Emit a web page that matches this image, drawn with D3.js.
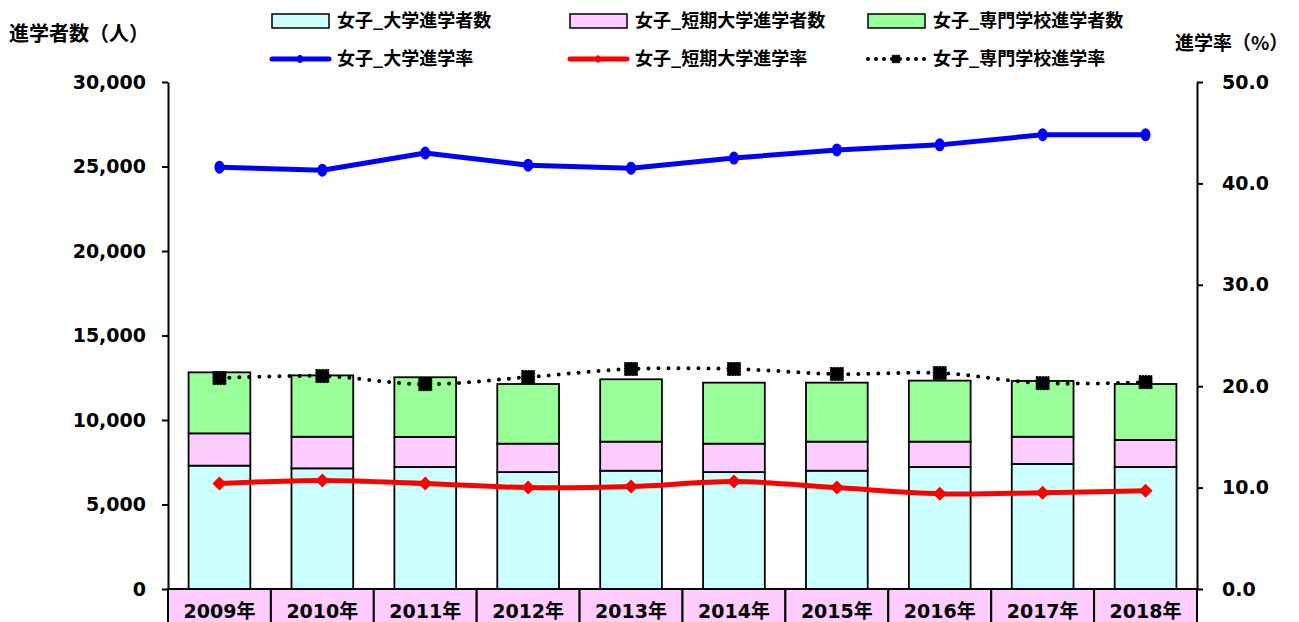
<!DOCTYPE html>
<html>
<head>
<meta charset="utf-8">
<script src="https://cdn.jsdelivr.net/npm/d3@7"></script>
<style>
  body { margin: 0; background: #fff; }
  svg text { font-family: "DejaVu Sans", "Noto Sans CJK JP", sans-serif; font-weight: bold; fill: #000; }
  svg text.jp { font-family: "Noto Sans CJK JP", sans-serif; font-weight: 700; }
</style>
</head>
<body>
<svg id="chart" width="1299" height="622"></svg>
<script>
// data
const years = ['2009年', '2010年', '2011年', '2012年', '2013年', '2014年', '2015年', '2016年', '2017年', '2018年'];
const univCount = [7300, 7140, 7220, 6920, 7000, 6920, 7000, 7220, 7400, 7220];
const juniorCount = [1910, 1870, 1780, 1680, 1720, 1680, 1720, 1500, 1610, 1600];
const vocCount = [3610, 3630, 3530, 3530, 3690, 3610, 3490, 3610, 3300, 3310];
const univRate = [41.6, 41.3, 43.0, 41.8, 41.5, 42.5, 43.3, 43.8, 44.8, 44.8];
const juniorRate = [10.4, 10.7, 10.4, 10.0, 10.1, 10.6, 10.0, 9.4, 9.5, 9.7];
const vocRate = [20.8, 21.0, 20.2, 20.9, 21.7, 21.7, 21.2, 21.3, 20.3, 20.4];
const leftTicks = [0, 5000, 10000, 15000, 20000, 25000, 30000];
const rightTicks = [0, 10, 20, 30, 40, 50];

const barSeries = [
  {name: '女子_大学進学者数', values: univCount, color: '#CCFFFF'},
  {name: '女子_短期大学進学者数', values: juniorCount, color: '#FFCCFF'},
  {name: '女子_専門学校進学者数', values: vocCount, color: '#99FF99'}
];
const lineSeries = [
  {name: '女子_大学進学率', values: univRate, color: '#0000FF', marker: 'circle'},
  {name: '女子_短期大学進学率', values: juniorRate, color: '#FF0000', marker: 'diamond'},
  {name: '女子_専門学校進学率', values: vocRate, color: '#000000', marker: 'square'}
];

const svg = d3.select('#chart');
const plotL = 168, plotR = 1197, plotT = 82, plotB = 589;

const x = d3.scaleBand().domain(years).range([plotL, plotR]).padding(0);
const yL = d3.scaleLinear().domain([0, 30000]).range([plotB, plotT]);
const yR = d3.scaleLinear().domain([0, 50]).range([plotB, plotT]);
const barW = x.bandwidth() * 0.6;

// stacked bars
const stackData = years.map((y, i) => ({year: y, s0: univCount[i], s1: juniorCount[i], s2: vocCount[i]}));
const stacked = d3.stack().keys(['s0', 's1', 's2'])(stackData);

svg.append('g').selectAll('g')
  .data(stacked)
  .join('g')
  .attr('fill', (d, i) => barSeries[i].color)
  .selectAll('rect')
  .data(d => d)
  .join('rect')
  .attr('x', d => x(d.data.year) + (x.bandwidth() - barW) / 2)
  .attr('width', barW)
  .attr('y', d => yL(d[1]))
  .attr('height', d => yL(d[0]) - yL(d[1]))
  .attr('stroke', '#000')
  .attr('stroke-width', 1.8);

// axes
const axL = svg.append('g')
  .attr('transform', `translate(${plotL},0)`)
  .call(d3.axisLeft(yL).tickValues(leftTicks).tickFormat(d3.format(',')).tickSize(6).tickSizeOuter(0).tickPadding(16));
const axR = svg.append('g')
  .attr('transform', `translate(${plotR},0)`)
  .call(d3.axisRight(yR).tickValues(rightTicks).tickFormat(d3.format('.1f')).tickSize(6).tickSizeOuter(0).tickPadding(19));
[axL, axR].forEach(a => {
  a.selectAll('path, line').attr('stroke', '#000').attr('stroke-width', 2);
  a.selectAll('text').attr('font-size', 19).attr('font-family', '"DejaVu Sans", sans-serif').attr('font-weight', 'bold');
});

// x category cells
const cells = svg.append('g').selectAll('g')
  .data(years)
  .join('g');
cells.append('rect')
  .attr('x', d => x(d))
  .attr('y', plotB)
  .attr('width', x.bandwidth())
  .attr('height', 50)
  .attr('fill', '#FFCCFF')
  .attr('stroke', '#000')
  .attr('stroke-width', 2);
cells.append('text')
  .attr('x', d => x(d) + x.bandwidth() / 2)
  .attr('y', 618)
  .attr('text-anchor', 'middle')
  .attr('font-size', 19)
  .text(d => d);

// lines
const cx = (d, i) => x(years[i]) + x.bandwidth() / 2;
function drawMarker(g, type, color) {
  if (type === 'circle') {
    g.append('ellipse').attr('rx', 5).attr('ry', 6.5).attr('fill', color);
  } else if (type === 'diamond') {
    g.append('path').attr('d', 'M0,-7L7,0L0,7L-7,0Z').attr('fill', color);
  } else {
    g.append('rect').attr('x', -6.5).attr('y', -6.5).attr('width', 13).attr('height', 13)
      .attr('fill', color).attr('stroke', '#000').attr('stroke-width', 1).attr('stroke-dasharray', '2 1');
  }
}

lineSeries.forEach((s, k) => {
  const line = d3.line()
    .x(cx)
    .y(d => yR(d))
    .curve(k === 0 ? d3.curveLinear : d3.curveCatmullRom.alpha(0.5));
  const path = svg.append('path')
    .datum(s.values)
    .attr('d', line)
    .attr('fill', 'none')
    .attr('stroke', s.color);
  if (k === 2) {
    path.attr('stroke-width', 4).attr('stroke-linecap', 'round').attr('stroke-dasharray', '0 10');
  } else {
    path.attr('stroke-width', 5).attr('stroke-linejoin', 'round');
  }
  s.values.forEach((v, i) => {
    const g = svg.append('g').attr('transform', `translate(${cx(v, i)},${yR(v)})`);
    drawMarker(g, s.marker, s.color);
  });
});

// axis titles
svg.append('text').attr('class', 'jp').attr('x', 9).attr('y', 41).attr('font-size', 20).text('進学者数（人）');
svg.append('text').attr('class', 'jp').attr('x', 1175).attr('y', 50).attr('font-size', 19).text('進学率（%）');

// legend
const legX = [272, 570, 868];
barSeries.forEach((s, i) => {
  svg.append('rect').attr('x', legX[i]).attr('y', 14).attr('width', 57).attr('height', 14)
    .attr('fill', s.color).attr('stroke', '#000').attr('stroke-width', 1.5);
  svg.append('text').attr('class', 'jp').attr('x', legX[i] + 65).attr('y', 27).attr('font-size', 18).text(s.name);
});
lineSeries.forEach((s, i) => {
  const ly = 59;
  const p = svg.append('line').attr('x1', legX[i]).attr('x2', legX[i] + 57).attr('y1', ly).attr('y2', ly)
    .attr('stroke', s.color);
  if (i === 2) {
    p.attr('stroke-width', 4).attr('stroke-linecap', 'round').attr('stroke-dasharray', '0 8');
  } else {
    p.attr('stroke-width', 5).attr('stroke-linecap', 'round');
  }
  const g = svg.append('g').attr('transform', `translate(${legX[i] + 28},${ly}) scale(0.6)`);
  drawMarker(g, s.marker, s.color);
  svg.append('text').attr('class', 'jp').attr('x', legX[i] + 65).attr('y', 65).attr('font-size', 18).text(s.name);
});
</script>
</body>
</html>
